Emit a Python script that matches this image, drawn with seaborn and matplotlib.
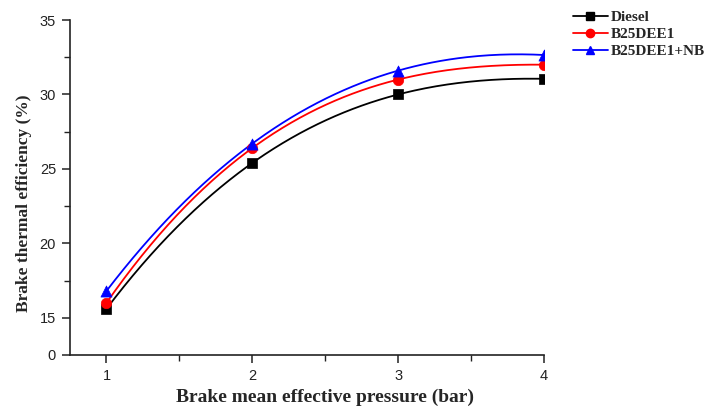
import numpy as np
import pandas as pd
import matplotlib
matplotlib.use("Agg")
import matplotlib.pyplot as plt
from matplotlib.lines import Line2D
from matplotlib.ticker import FixedLocator
import seaborn as sns

# Brake mean effective pressure (bar)
bmep = [1, 2, 3, 4]
# Brake thermal efficiency (%) for each fuel
diesel = [15.6, 25.4, 30.0, 31.05]
b25dee1 = [16.0, 26.4, 31.0, 32.0]
b25dee1_nb = [16.8, 26.7, 31.6, 32.65]

series_names = ["Diesel", "B25DEE1", "B25DEE1+NB"]
series_values = [diesel, b25dee1, b25dee1_nb]
colors = ["black", "red", "blue"]
markers = ["s", "o", "^"]
marker_sizes = [6.5, 7.5, 8]

y_ticks = [12.5, 15, 20, 25, 30, 35]
y_tick_labels = ["0", "15", "20", "25", "30", "35"]
x_ticks = [1, 2, 3, 4]


def smooth_curve(x, y, n=200):
    """Cubic interpolating curve through the measured points."""
    coeffs = np.polyfit(x, y, len(x) - 1)
    xs = np.linspace(min(x), max(x), n)
    return xs, np.polyval(coeffs, xs)


sns.set_theme(style="ticks")
plt.rcParams["font.family"] = ["Liberation Sans", "DejaVu Sans"]

fig = plt.figure(figsize=(7.07, 4.08), dpi=100)
ax = fig.add_axes([70 / 707, 53 / 408, (544 - 70) / 707, (355 - 20) / 408])

handles = []
for name, vals, col, mk, ms in zip(series_names, series_values, colors, markers, marker_sizes):
    xs, ys = smooth_curve(bmep, vals)
    curve = pd.DataFrame({"x": xs, "y": ys})
    sns.lineplot(data=curve, x="x", y="y", ax=ax, color=col, linewidth=1.3,
                 sort=False, estimator=None)
    pts = pd.DataFrame({"x": bmep, "y": vals})
    sns.scatterplot(data=pts, x="x", y="y", ax=ax, color=col, marker=mk,
                    s=ms ** 2, edgecolor=col, linewidth=0.5, zorder=5)
    handles.append(Line2D([0], [0], color=col, marker=mk, markersize=ms * 0.8,
                          linewidth=1.3, label=name))

ax.set_xlim(0.75, 4.0)
ax.set_ylim(12.5, 35)
ax.xaxis.set_major_locator(FixedLocator(x_ticks))
ax.xaxis.set_minor_locator(FixedLocator([1.5, 2.5, 3.5]))
ax.yaxis.set_major_locator(FixedLocator(y_ticks))
ax.set_yticklabels(y_tick_labels)
ax.yaxis.set_minor_locator(FixedLocator([17.5, 22.5, 27.5, 32.5]))

for side in ["top", "right"]:
    ax.spines[side].set_visible(False)
for side in ["left", "bottom"]:
    ax.spines[side].set_linewidth(1.2)
    ax.spines[side].set_color("#222222")

ax.tick_params(axis="both", which="major", direction="out", length=6, width=1.1,
               labelsize=10.5, colors="#222222", pad=4)
ax.tick_params(axis="both", which="minor", direction="out", length=4, width=1.0,
               colors="#222222")
ax.tick_params(axis="x", pad=4)

serif = ["Liberation Serif", "DejaVu Serif"]
ax.set_xlabel("Brake mean effective pressure (bar)",
              fontdict={"family": serif, "weight": "bold", "size": 14})
ax.set_ylabel("Brake thermal efficiency (%)",
              fontdict={"family": serif, "weight": "bold", "size": 12.5})
ax.xaxis.set_label_coords(0.538, -0.102)
ax.yaxis.set_label_coords(-0.080, 0.454)

fig.legend(handles=handles, loc="upper left", bbox_to_anchor=(562 / 707, 1.0),
           frameon=False, borderaxespad=0.3, handlelength=2.3, handletextpad=0.2,
           labelspacing=0.22,
           prop={"family": serif, "weight": "bold", "size": 11})

fig.savefig("out.png", dpi=100)
